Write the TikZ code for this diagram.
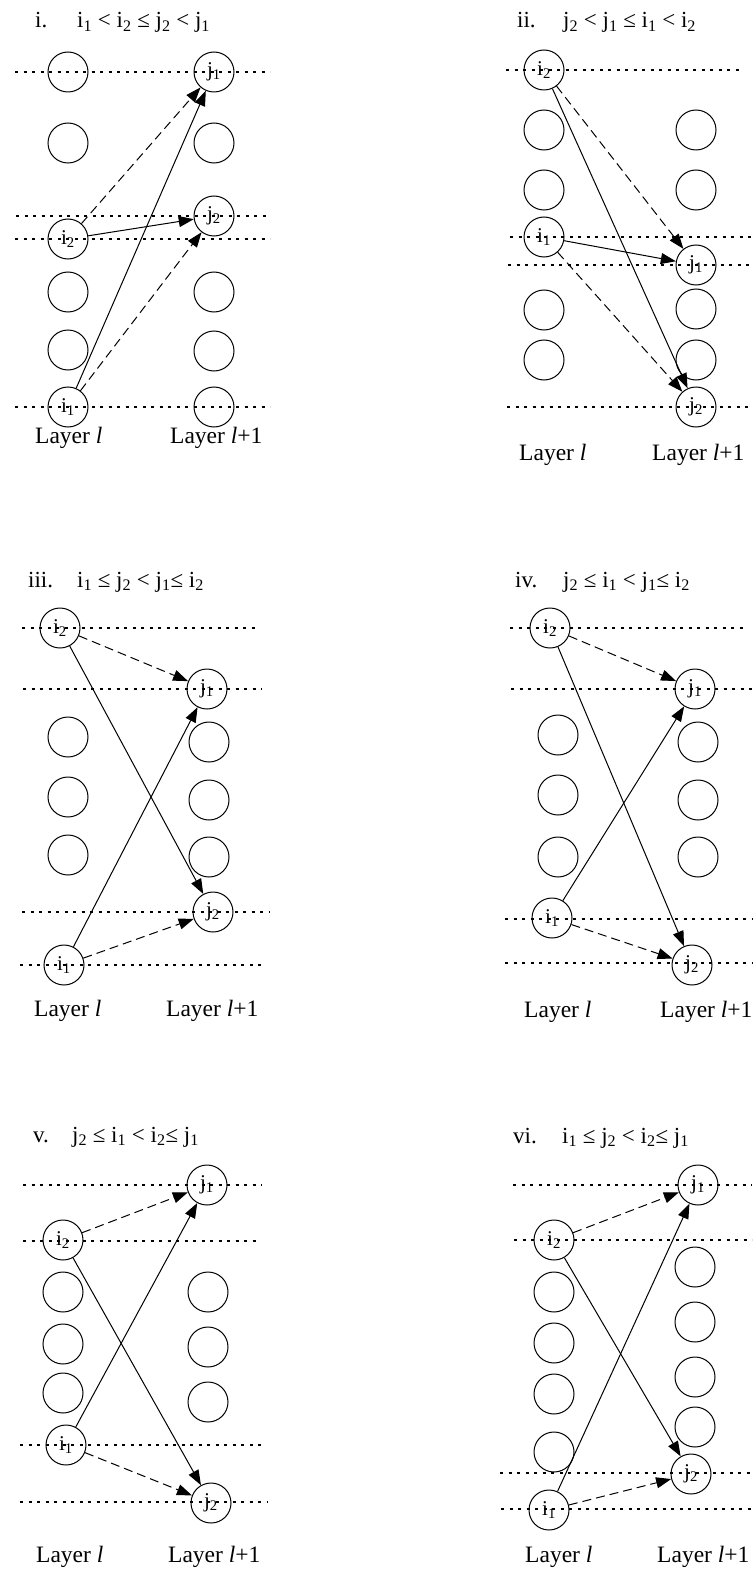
\documentclass[tikz,border=0pt]{standalone}
\usepackage{fontspec}
\setmainfont{Liberation Serif}
\usetikzlibrary{arrows.meta}
\newcommand{\sbs}[2]{#1\textsubscript{#2}}
\begin{document}
\begin{tikzpicture}[x=1pt,y=-1pt,
  nd/.style={circle,draw,line width=1pt,minimum size=40pt,inner sep=0pt,font=\fontsize{21}{22}\selectfont},
  dotln/.style={line width=1.3pt,dash pattern=on 3pt off 5.5pt},
  sarr/.style={line width=1pt,-{Triangle[length=15pt,width=11pt]}},
  darr/.style={sarr,dash pattern=on 9pt off 5pt},
  ttl/.style={anchor=base west,inner sep=0pt,font=\fontsize{23}{26}\selectfont},
  lay/.style={anchor=base west,inner sep=0pt,font=\fontsize{23.5}{26}\selectfont}]
\fill[white] (0,0) rectangle (752,1570);
\useasboundingbox (0,0) rectangle (752,1570);

% ---------------- Panel i ----------------
\draw[dotln] (15,72) -- (270,72);
\draw[dotln] (16,216) -- (270,216);
\draw[dotln] (15,239) -- (270,239);
\draw[dotln] (15,407) -- (270,407);
\node[nd] (pa0) at (68,72) {};
\node[nd] (pa1) at (68,143) {};
\node[nd] (pai2) at (68,239) {\sbs{i}{2}};
\node[nd] (pa3) at (68,292) {};
\node[nd] (pa4) at (68,350) {};
\node[nd] (pai1) at (68,407) {\sbs{i}{1}};
\node[nd] (paj1) at (214,72) {\sbs{j}{1}};
\node[nd] (pb1) at (214,143) {};
\node[nd] (paj2) at (214,216) {\sbs{j}{2}};
\node[nd] (pb3) at (214,292) {};
\node[nd] (pb4) at (214,351) {};
\node[nd] (pb5) at (214,407) {};
\draw[sarr] (pai1) -- (paj1);
\draw[darr] (pai1) -- (paj2);
\draw[darr] (pai2) -- (paj1);
\draw[sarr] (pai2) -- (paj2);
\node[ttl] (t1a) at (35,28) {i.};
\node[ttl] (t1b) at (77,28) {\sbs{i}{1} < \sbs{i}{2} ≤ \sbs{j}{2} < \sbs{j}{1}};
\node[lay] (l1a) at (35,443) {Layer \textit{l}};
\node[lay] (l1b) at (170,443) {Layer \textit{l}+1};

% ---------------- Panel ii ----------------
\draw[dotln] (506,70) -- (740,70);
\draw[dotln] (510,237) -- (752,237);
\draw[dotln] (508,265) -- (752,265);
\draw[dotln] (507,407) -- (752,407);
\node[nd] (qi2) at (544,70) {\sbs{i}{2}};
\node[nd] (qa1) at (544,130) {};
\node[nd] (qa2) at (544,190) {};
\node[nd] (qi1) at (544,237) {\sbs{i}{1}};
\node[nd] (qa4) at (544,310) {};
\node[nd] (qa5) at (544,360) {};
\node[nd] (qb1) at (696,130) {};
\node[nd] (qb2) at (696,190) {};
\node[nd] (qj1) at (696,265) {\sbs{j}{1}};
\node[nd] (qb4) at (696,309) {};
\node[nd] (qb5) at (696,360) {};
\node[nd] (qj2) at (696,407) {\sbs{j}{2}};
\draw[darr] (qi2) -- (qj1);
\draw[sarr] (qi2) -- (qj2);
\draw[sarr] (qi1) -- (qj1);
\draw[darr] (qi1) -- (qj2);
\node[ttl] (t2a) at (517,28) {ii.};
\node[ttl] (t2b) at (563,28) {\sbs{j}{2} < \sbs{j}{1} ≤ \sbs{i}{1} < \sbs{i}{2}};
\node[lay] (l2a) at (519,460) {Layer \textit{l}};
\node[lay] (l2b) at (652,460) {Layer \textit{l}+1};

% ---------------- Panel iii ----------------
\draw[dotln] (22,628) -- (256,628);
\draw[dotln] (23,689) -- (262,689);
\draw[dotln] (22,912) -- (270,912);
\draw[dotln] (20,965) -- (263,965);
\node[nd] (ri2) at (60,628) {\sbs{i}{2}};
\node[nd] (ra1) at (68,737) {};
\node[nd] (ra2) at (68,797) {};
\node[nd] (ra3) at (68,855) {};
\node[nd] (ri1) at (64,965) {\sbs{i}{1}};
\node[nd] (rj1) at (207,689) {\sbs{j}{1}};
\node[nd] (rb1) at (209,742) {};
\node[nd] (rb2) at (209,800) {};
\node[nd] (rb3) at (209,857) {};
\node[nd] (rj2) at (213,912) {\sbs{j}{2}};
\draw[darr] (ri2) -- (rj1);
\draw[sarr] (ri2) -- (rj2);
\draw[sarr] (ri1) -- (rj1);
\draw[darr] (ri1) -- (rj2);
\node[ttl] (t3a) at (28,587) {iii.};
\node[ttl] (t3b) at (77,587) {\sbs{i}{1} ≤ \sbs{j}{2} < \sbs{j}{1}≤ \sbs{i}{2}};
\node[lay] (l3a) at (34,1016) {Layer \textit{l}};
\node[lay] (l3b) at (166,1016) {Layer \textit{l}+1};

% ---------------- Panel iv ----------------
\draw[dotln] (510,628) -- (745,628);
\draw[dotln] (511,689) -- (752,689);
\draw[dotln] (505,919) -- (752,919);
\draw[dotln] (505,963) -- (752,963);
\node[nd] (si2) at (550,628) {\sbs{i}{2}};
\node[nd] (sa1) at (558,735) {};
\node[nd] (sa2) at (558,795) {};
\node[nd] (sa3) at (558,857) {};
\node[nd] (si1) at (552,918) {\sbs{i}{1}};
\node[nd] (sj1) at (695,689) {\sbs{j}{1}};
\node[nd] (sb1) at (698,742) {};
\node[nd] (sb2) at (698,800) {};
\node[nd] (sb3) at (698,857) {};
\node[nd] (sj2) at (692,965) {\sbs{j}{2}};
\draw[darr] (si2) -- (sj1);
\draw[sarr] (si2) -- (sj2);
\draw[sarr] (si1) -- (sj1);
\draw[darr] (si1) -- (sj2);
\node[ttl] (t4a) at (515,587) {iv.};
\node[ttl] (t4b) at (563,587) {\sbs{j}{2} ≤ \sbs{i}{1} < \sbs{j}{1}≤ \sbs{i}{2}};
\node[lay] (l4a) at (524,1017) {Layer \textit{l}};
\node[lay] (l4b) at (660,1017) {Layer \textit{l}+1};

% ---------------- Panel v ----------------
\draw[dotln] (23,1185) -- (262,1185);
\draw[dotln] (23,1241) -- (257,1241);
\draw[dotln] (20,1445) -- (265,1445);
\draw[dotln] (20,1502) -- (268,1502);
\node[nd] (ui2) at (63,1240) {\sbs{i}{2}};
\node[nd] (ua1) at (63,1292) {};
\node[nd] (ua2) at (63,1344) {};
\node[nd] (ua3) at (63,1393) {};
\node[nd] (ui1) at (66,1445) {\sbs{i}{1}};
\node[nd] (uj1) at (207,1185) {\sbs{j}{1}};
\node[nd] (ub1) at (208,1292) {};
\node[nd] (ub2) at (208,1347) {};
\node[nd] (ub3) at (208,1402) {};
\node[nd] (uj2) at (211,1503) {\sbs{j}{2}};
\draw[darr] (ui2) -- (uj1);
\draw[sarr] (ui2) -- (uj2);
\draw[sarr] (ui1) -- (uj1);
\draw[darr] (ui1) -- (uj2);
\node[ttl] (t5a) at (33,1142) {v.};
\node[ttl] (t5b) at (72,1142) {\sbs{j}{2} ≤ \sbs{i}{1} < \sbs{i}{2}≤ \sbs{j}{1}};
\node[lay] (l5a) at (36,1562) {Layer \textit{l}};
\node[lay] (l5b) at (168,1562) {Layer \textit{l}+1};

% ---------------- Panel vi ----------------
\draw[dotln] (513,1185) -- (752,1185);
\draw[dotln] (514,1240) -- (752,1240);
\draw[dotln] (500,1473) -- (752,1473);
\draw[dotln] (501,1509) -- (752,1509);
\node[nd] (vi2) at (554,1240) {\sbs{i}{2}};
\node[nd] (va1) at (554,1292) {};
\node[nd] (va2) at (554,1343) {};
\node[nd] (va3) at (554,1394) {};
\node[nd] (va4) at (554,1452) {};
\node[nd] (vi1) at (549,1510) {\sbs{i}{1}};
\node[nd] (vj1) at (698,1185) {\sbs{j}{1}};
\node[nd] (vb1) at (695,1267) {};
\node[nd] (vb2) at (695,1322) {};
\node[nd] (vb3) at (695,1377) {};
\node[nd] (vb4) at (695,1427) {};
\node[nd] (vj2) at (691,1474) {\sbs{j}{2}};
\draw[darr] (vi2) -- (vj1);
\draw[sarr] (vi2) -- (vj2);
\draw[sarr] (vi1) -- (vj1);
\draw[darr] (vi1) -- (vj2);
\node[ttl] (t6a) at (513,1143) {vi.};
\node[ttl] (t6b) at (562,1143) {\sbs{i}{1} ≤ \sbs{j}{2} < \sbs{i}{2}≤ \sbs{j}{1}};
\node[lay] (l6a) at (525,1562) {Layer \textit{l}};
\node[lay] (l6b) at (657,1562) {Layer \textit{l}+1};
\end{tikzpicture}
\end{document}
